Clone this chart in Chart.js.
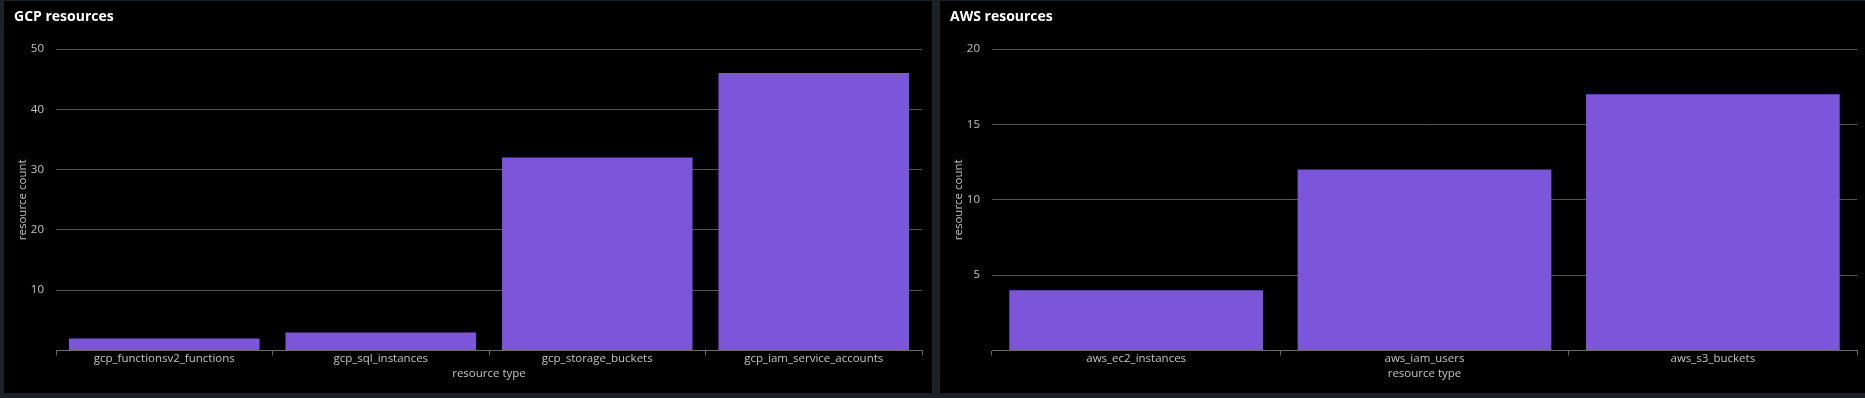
<!DOCTYPE html>
<html>
<head>
<meta charset="utf-8">
<script src="https://cdn.jsdelivr.net/npm/chart.js@4/dist/chart.umd.min.js"></script>
<style>
  html, body { margin:0; padding:0; background:#1b2124; width:1865px; height:398px; overflow:hidden; }
  .panel { position:absolute; background:#000; }
  .panel h2 { position:absolute; left:10px; top:5px; margin:0; color:#fff; font:bold 14px "Open Sans", sans-serif; }
  .panel canvas { position:absolute; left:0; top:0; }
  #gcp { left:4px; top:1px; width:928px; height:392px; }
  #aws { left:940px; top:1px; width:925px; height:392px; }
</style>
</head>
<body>
<div class="panel" id="gcp"><canvas id="gcpChart" width="928" height="392"></canvas><h2>GCP resources</h2></div>
<div class="panel" id="aws"><canvas id="awsChart" width="925" height="392"></canvas><h2>AWS resources</h2></div>
<script>
const gcpTypes = ['gcp_functionsv2_functions','gcp_sql_instances','gcp_storage_buckets','gcp_iam_service_accounts'];
const gcpCounts = [2,3,32,46];
const gcpMax = 50, gcpStep = 10;

const awsTypes = ['aws_ec2_instances','aws_iam_users','aws_s3_buckets'];
const awsCounts = [4,12,17];
const awsMax = 20, awsStep = 5;

Chart.defaults.font.family = '"Open Sans", sans-serif';
Chart.defaults.font.size = 11.5;
Chart.defaults.color = '#bdbdbd';

function barChart(id, labels, values, max, step, padRight){
    new Chart(document.getElementById(id),{
        type:'bar',
        data:{
            labels:labels,
            datasets:[{
                data:values,
                backgroundColor:'#7b56db',
                barPercentage:0.88,
                categoryPercentage:1
            }]
        },
        options:{
            responsive:false,
            animation:false,
            layout:{padding:{top:48,right:padRight,left:0,bottom:0}},
            plugins:{legend:{display:false},tooltip:{enabled:false}},
            scales:{
                x:{
                    offset:true,
                    grid:{offset:true,drawOnChartArea:false,color:'#6a6a6a',tickLength:5},
                    border:{color:'#6a6a6a'},
                    ticks:{padding:-4,color:'#c4c4c4'},
                    title:{display:true,text:'resource type',color:'#c4c4c4',padding:{top:0,bottom:12}},
                    afterFit:s=>{s.height=42.5}
                },
                y:{
                    min:0,max:max,
                    grid:{color:'#555',drawTicks:false},
                    border:{display:false},
                    ticks:{stepSize:step,padding:12,color:'#c4c4c4',callback:v=>v===0?'':v},
                    title:{display:true,text:'resource count',color:'#c4c4c4',padding:{top:12,bottom:0}},
                    afterFit:s=>{s.width=52}
                }
            }
        }
    });
}

barChart('gcpChart', gcpTypes, gcpCounts, gcpMax, gcpStep, 10);
barChart('awsChart', awsTypes, awsCounts, awsMax, awsStep, 8);
</script>
</body>
</html>
